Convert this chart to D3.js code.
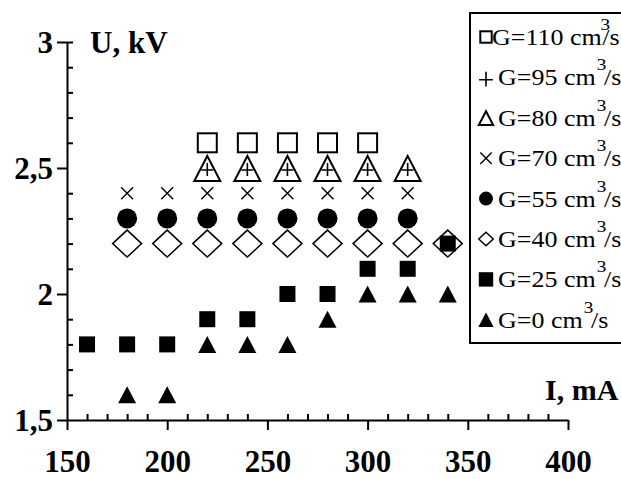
<!DOCTYPE html>
<html>
<head>
<meta charset="utf-8">
<script src="https://cdn.jsdelivr.net/npm/d3@7"></script>
<style>
  html, body { margin: 0; padding: 0; background: #fff; }
  svg { display: block; }
</style>
</head>
<body>
<svg id="chart" width="621" height="479"></svg>
<script>
// ---- data ----
const seriesNames = ["G=110", "G=95", "G=80", "G=70", "G=55", "G=40", "G=25", "G=0"];
const seriesShapes = ["openSquare", "plus", "openTriangle", "cross", "filledCircle", "openDiamond", "filledSquare", "filledTriangle"];
const currentG110 = [220, 240, 260, 280, 300];
const voltageG110 = [2.6, 2.6, 2.6, 2.6, 2.6];
const currentG95 = [220, 240, 260, 280, 300, 320];
const voltageG95 = [2.5, 2.5, 2.5, 2.5, 2.5, 2.5];
const currentG80 = [220, 240, 260, 280, 300, 320];
const voltageG80 = [2.5, 2.5, 2.5, 2.5, 2.5, 2.5];
const currentG70 = [180, 200, 220, 240, 260, 280, 300, 320];
const voltageG70 = [2.4, 2.4, 2.4, 2.4, 2.4, 2.4, 2.4, 2.4];
const currentG55 = [180, 200, 220, 240, 260, 280, 300, 320];
const voltageG55 = [2.3, 2.3, 2.3, 2.3, 2.3, 2.3, 2.3, 2.3];
const currentG40 = [180, 200, 220, 240, 260, 280, 300, 320, 340];
const voltageG40 = [2.2, 2.2, 2.2, 2.2, 2.2, 2.2, 2.2, 2.2, 2.2];
const currentG25 = [160, 180, 200, 220, 240, 260, 280, 300, 320, 340];
const voltageG25 = [1.8, 1.8, 1.8, 1.9, 1.9, 2.0, 2.0, 2.1, 2.1, 2.2];
const currentG0 = [180, 200, 220, 240, 260, 280, 300, 320, 340];
const voltageG0 = [1.6, 1.6, 1.8, 1.8, 1.8, 1.9, 2.0, 2.0, 2.0];
const xMajorTicks = [150, 200, 250, 300, 350, 400];
const yMajorTicks = [1.5, 2, 2.5, 3];
const yTickLabels = ["1,5", "2", "2,5", "3"];
const xTitle = "I, mA";
const yTitle = "U, kV";

const seriesData = [
  [currentG110, voltageG110], [currentG95, voltageG95], [currentG80, voltageG80],
  [currentG70, voltageG70], [currentG55, voltageG55], [currentG40, voltageG40],
  [currentG25, voltageG25], [currentG0, voltageG0]
];

// ---- layout ----
const svg = d3.select("#chart");
const x = d3.scaleLinear().domain([150, 400]).range([67, 568]);
const y = d3.scaleLinear().domain([1.5, 3]).range([420, 42]);
const serif = "'Liberation Serif', 'Times New Roman', serif";

svg.append("rect").attr("width", 621).attr("height", 479).attr("fill", "#fff");

// minor ticks
const xMinor = d3.range(160, 400, 10).filter(v => v % 50 !== 0);
const yMinor = d3.range(16, 30, 1).map(v => v / 10).filter(v => Math.abs(v * 2 - Math.round(v * 2)) > 1e-6);

const gx = svg.append("g").attr("transform", `translate(0,${y(1.5)})`);
gx.call(d3.axisBottom(x).tickValues(xMajorTicks).tickSize(10).tickSizeOuter(0).tickPadding(20).tickFormat(d3.format("d")));
const gxm = svg.append("g").attr("transform", `translate(0,${y(1.5)})`);
gxm.call(d3.axisTop(x).tickValues(xMinor).tickSize(6).tickFormat(""));
gxm.select(".domain").remove();

const gy = svg.append("g").attr("transform", `translate(${x(150)},0)`);
gy.call(d3.axisLeft(y).tickValues(yMajorTicks).tickSize(10).tickSizeOuter(0).tickPadding(4)
  .tickFormat((d, i) => yTickLabels[i]));
const gym = svg.append("g").attr("transform", `translate(${x(150)},0)`);
gym.call(d3.axisRight(y).tickValues(yMinor.concat([3])).tickSize(6).tickFormat(""));
gym.select(".domain").remove();

svg.selectAll(".domain, .tick line").attr("stroke", "#000").attr("stroke-width", 2);
svg.selectAll(".tick text").attr("fill", "#000").attr("font-family", serif)
  .attr("font-weight", "bold").attr("font-size", 31);
gy.selectAll(".tick text").attr("dy", "0.34em");

// axis titles
svg.append("text").attr("x", 90).attr("y", 53).attr("font-family", serif).attr("font-weight", "bold")
  .attr("font-size", 31).text(yTitle);
svg.append("text").attr("x", 545).attr("y", 400).attr("font-family", serif).attr("font-weight", "bold")
  .attr("font-size", 30).text(xTitle);

// ---- symbol painter ----
function drawSymbol(g, shape, cx, cy, k) {
  const s = k;
  switch (shape) {
    case "openSquare":
      g.append("rect").attr("x", cx - 9.5 * s).attr("y", cy - 9.5 * s).attr("width", 19 * s).attr("height", 19 * s)
        .attr("fill", "none").attr("stroke", "#000").attr("stroke-width", 2);
      break;
    case "filledSquare":
      g.append("rect").attr("x", cx - 8 * s).attr("y", cy - 8 * s).attr("width", 16 * s).attr("height", 16 * s)
        .attr("fill", "#000");
      break;
    case "openTriangle":
      g.append("path").attr("d", `M${cx},${cy - 12 * s}L${cx + 13 * s},${cy + 13 * s}L${cx - 13 * s},${cy + 13 * s}Z`)
        .attr("fill", "none").attr("stroke", "#000").attr("stroke-width", 2).attr("stroke-linejoin", "miter");
      break;
    case "filledTriangle":
      g.append("path").attr("d", `M${cx},${cy - 8.5 * s}L${cx + 9 * s},${cy + 8.5 * s}L${cx - 9 * s},${cy + 8.5 * s}Z`)
        .attr("fill", "#000");
      break;
    case "plus":
      g.append("path").attr("d", `M${cx - 6 * s},${cy + 2 * s}H${cx + 6 * s}M${cx},${cy - 5 * s}V${cy + 8 * s}`)
        .attr("fill", "none").attr("stroke", "#000").attr("stroke-width", 1.6);
      break;
    case "cross":
      g.append("path").attr("d", `M${cx - 6 * s},${cy - 6 * s}L${cx + 6 * s},${cy + 6 * s}M${cx + 6 * s},${cy - 6 * s}L${cx - 6 * s},${cy + 6 * s}`)
        .attr("fill", "none").attr("stroke", "#000").attr("stroke-width", 1.4);
      break;
    case "filledCircle":
      g.append("circle").attr("cx", cx).attr("cy", cy).attr("r", 10 * s).attr("fill", "#000");
      break;
    case "openDiamond":
      g.append("path").attr("d", `M${cx},${cy - 13.5 * s}L${cx + 14.5 * s},${cy}L${cx},${cy + 13.5 * s}L${cx - 14.5 * s},${cy}Z`)
        .attr("fill", "none").attr("stroke", "#000").attr("stroke-width", 1.5);
      break;
  }
}

// ---- points ----
const drawOrder = [0, 2, 1, 3, 4, 5, 6, 7];
const pts = svg.append("g");
drawOrder.forEach(si => {
  const [xs, ys] = seriesData[si];
  const g = pts.append("g").attr("class", "series-" + si);
  xs.forEach((xv, i) => drawSymbol(g, seriesShapes[si], x(xv), y(ys[i]), 1));
});

// ---- legend ----
const leg = svg.append("g");
leg.append("rect").attr("x", 470).attr("y", 13).attr("width", 170).attr("height", 330)
  .attr("fill", "#fff").attr("stroke", "#000").attr("stroke-width", 2);
const legendScale = [0.6, 1.15, 0.55, 0.95, 0.7, 0.5, 0.9, 0.85];
seriesNames.forEach((name, i) => {
  const base = 45 + i * 40.4;
  const cy = base - 8;
  drawSymbol(leg, seriesShapes[i], 486, cy, legendScale[i]);
  const tx = i === 0 ? 492 : 498;
  const t = leg.append("text").attr("transform", `translate(${tx},${base}) scale(1.13,1)`)
    .attr("font-family", serif).attr("font-size", 23).attr("fill", "#000");
  t.append("tspan").text(name + " cm");
  t.append("tspan").attr("dy", -15).attr("dx", i === 0 ? -1 : 1).attr("font-size", 17).text("3");
  t.append("tspan").attr("dy", 15).attr("dx", i === 0 ? -7 : -2).text("/s");
});
</script>
</body>
</html>
